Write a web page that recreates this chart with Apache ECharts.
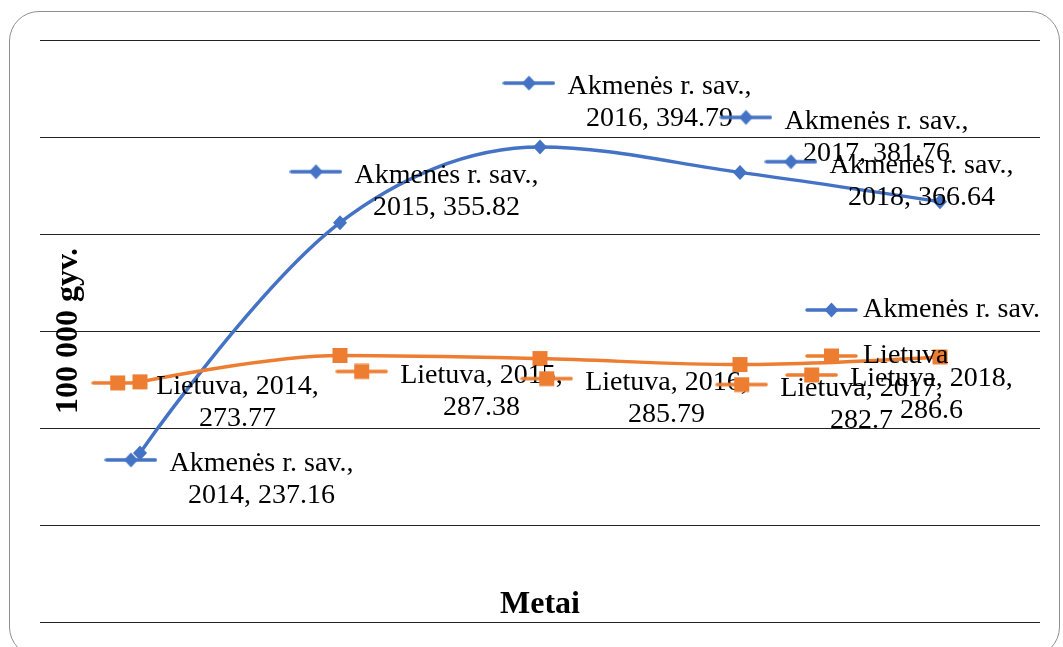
<!DOCTYPE html>
<html>
<head>
<meta charset="utf-8">
<script src="https://cdn.jsdelivr.net/npm/echarts@6/dist/echarts.min.js"></script>
<style>
  html, body { margin: 0; padding: 0; background: #fff; }
  #wrap { position: relative; width: 1063px; height: 647px; overflow: hidden; }
  #chart { position: absolute; left: 0; top: 0; width: 1063px; height: 647px; }
  #frame { position: absolute; left: 9px; top: 11px; width: 1051px; height: 646px;
           border: 1.5px solid #8f8f8f; border-radius: 30px; box-sizing: border-box; pointer-events: none; }
</style>
</head>
<body>
<div id="wrap">
  <div id="chart"></div>
  <div id="frame"></div>
</div>
<script>
// ---- data ----
const years = ['2014', '2015', '2016', '2017', '2018'];
const seriesNames = ['Akmenės r. sav.', 'Lietuva'];
const akmenes = [237.16, 355.82, 394.79, 381.76, 366.64];
const lietuva = [273.77, 287.38, 285.79, 282.7, 286.6];
const axisTitleY = '100 000 gyv.';
const axisTitleX = 'Metai';

// ---- label placement (styling) ----
const akmOffsets = [[89, 27], [74, -31], [87, -44], [104, -35], [-51, -20]];
const litOffsets = [[65, 21], [109, 36], [94, 40], [89, 40], [-41, 38]];

const BLUE = '#4472C4';
const ORANGE = '#ED7D31';
const FONT = '"Liberation Serif", "Times New Roman", serif';

// legend-key glyph (line with marker), as used inside Excel-style data labels
function makeKey(color, shape, h, cy) {
  const c = document.createElement('canvas');
  c.width = 53; c.height = h;
  const g = c.getContext('2d');
  g.strokeStyle = color; g.lineWidth = 3.5; g.lineCap = 'round';
  g.beginPath(); g.moveTo(2, cy); g.lineTo(51, cy); g.stroke();
  g.fillStyle = color;
  if (shape === 'diamond') {
    g.beginPath(); g.moveTo(26.5, cy - 7.5); g.lineTo(33.5, cy); g.lineTo(26.5, cy + 7.5); g.lineTo(19.5, cy); g.closePath(); g.fill();
  } else {
    g.fillRect(19, cy - 7.5, 15, 15);
  }
  return c;
}
const keyAkm = makeKey(BLUE, 'diamond', 24, 8);
const keyLit = makeKey(ORANGE, 'square', 24, 8);
const legAkm = makeKey(BLUE, 'diamond', 16, 8).toDataURL();
const legLit = makeKey(ORANGE, 'square', 16, 8).toDataURL();

function richFor(keyImg) {
  return {
    k: { width: 53, height: 24, backgroundColor: { image: keyImg }, lineHeight: 32 },
    g: { width: 12, lineHeight: 32 },
    sp: { width: 65, lineHeight: 32 },
    t: { fontSize: 28, fontFamily: FONT, color: '#000', lineHeight: 32 }
  };
}

function buildData(values, offsets) {
  return values.map((v, i) => ({ value: v, label: { offset: offsets[i] } }));
}

const chart = echarts.init(document.getElementById('chart'));
chart.setOption({
  animation: false,
  backgroundColor: '#fff',
  grid: { left: 40, right: 23, top: 40, bottom: 25, containLabel: false },
  legend: {
    orient: 'vertical',
    left: 800, top: 291,
    itemWidth: 53, itemHeight: 16, itemGap: 18,
    textStyle: { fontSize: 28, fontFamily: FONT, color: '#000' },
    data: [
      { name: seriesNames[0], icon: 'image://' + legAkm },
      { name: seriesNames[1], icon: 'image://' + legLit }
    ]
  },
  xAxis: {
    type: 'category',
    data: years,
    boundaryGap: true,
    axisLine: { show: false },
    axisTick: { show: false },
    axisLabel: { show: false },
    name: axisTitleX,
    nameLocation: 'middle',
    nameGap: -33,
    nameTextStyle: { fontSize: 32, fontWeight: 'bold', fontFamily: FONT, color: '#000' }
  },
  yAxis: {
    type: 'value',
    min: 150, max: 450, interval: 50,
    axisLine: { show: false },
    axisTick: { show: false },
    axisLabel: { show: false },
    splitLine: { lineStyle: { color: '#222', width: 1.2 } },
    name: axisTitleY,
    nameLocation: 'middle',
    nameRotate: 90,
    nameGap: -45,
    nameTextStyle: { fontSize: 32, fontWeight: 'bold', fontFamily: FONT, color: '#000' }
  },
  series: [
    {
      name: seriesNames[0], type: 'line', smooth: 0.35,
      symbol: 'diamond', symbolSize: [14, 15],
      itemStyle: { color: BLUE }, lineStyle: { color: BLUE, width: 3.5 },
      data: buildData(akmenes, akmOffsets),
      label: {
        show: true, position: 'inside', align: 'center', verticalAlign: 'middle',
        formatter: p => '{k| }{g| }{t|' + p.seriesName + ',}\n{sp| }{t|' + p.name + ', ' + p.value + '}',
        rich: richFor(keyAkm)
      },
      z: 2
    },
    {
      name: seriesNames[1], type: 'line', smooth: 0.35,
      symbol: 'rect', symbolSize: 15,
      itemStyle: { color: ORANGE }, lineStyle: { color: ORANGE, width: 3.5 },
      data: buildData(lietuva, litOffsets),
      label: {
        show: true, position: 'inside', align: 'center', verticalAlign: 'middle',
        formatter: p => '{k| }{g| }{t|' + p.seriesName + ', ' + p.name + ',}\n{sp| }{t|' + p.value + '}',
        rich: richFor(keyLit)
      },
      z: 3
    }
  ]
});
</script>
</body>
</html>
